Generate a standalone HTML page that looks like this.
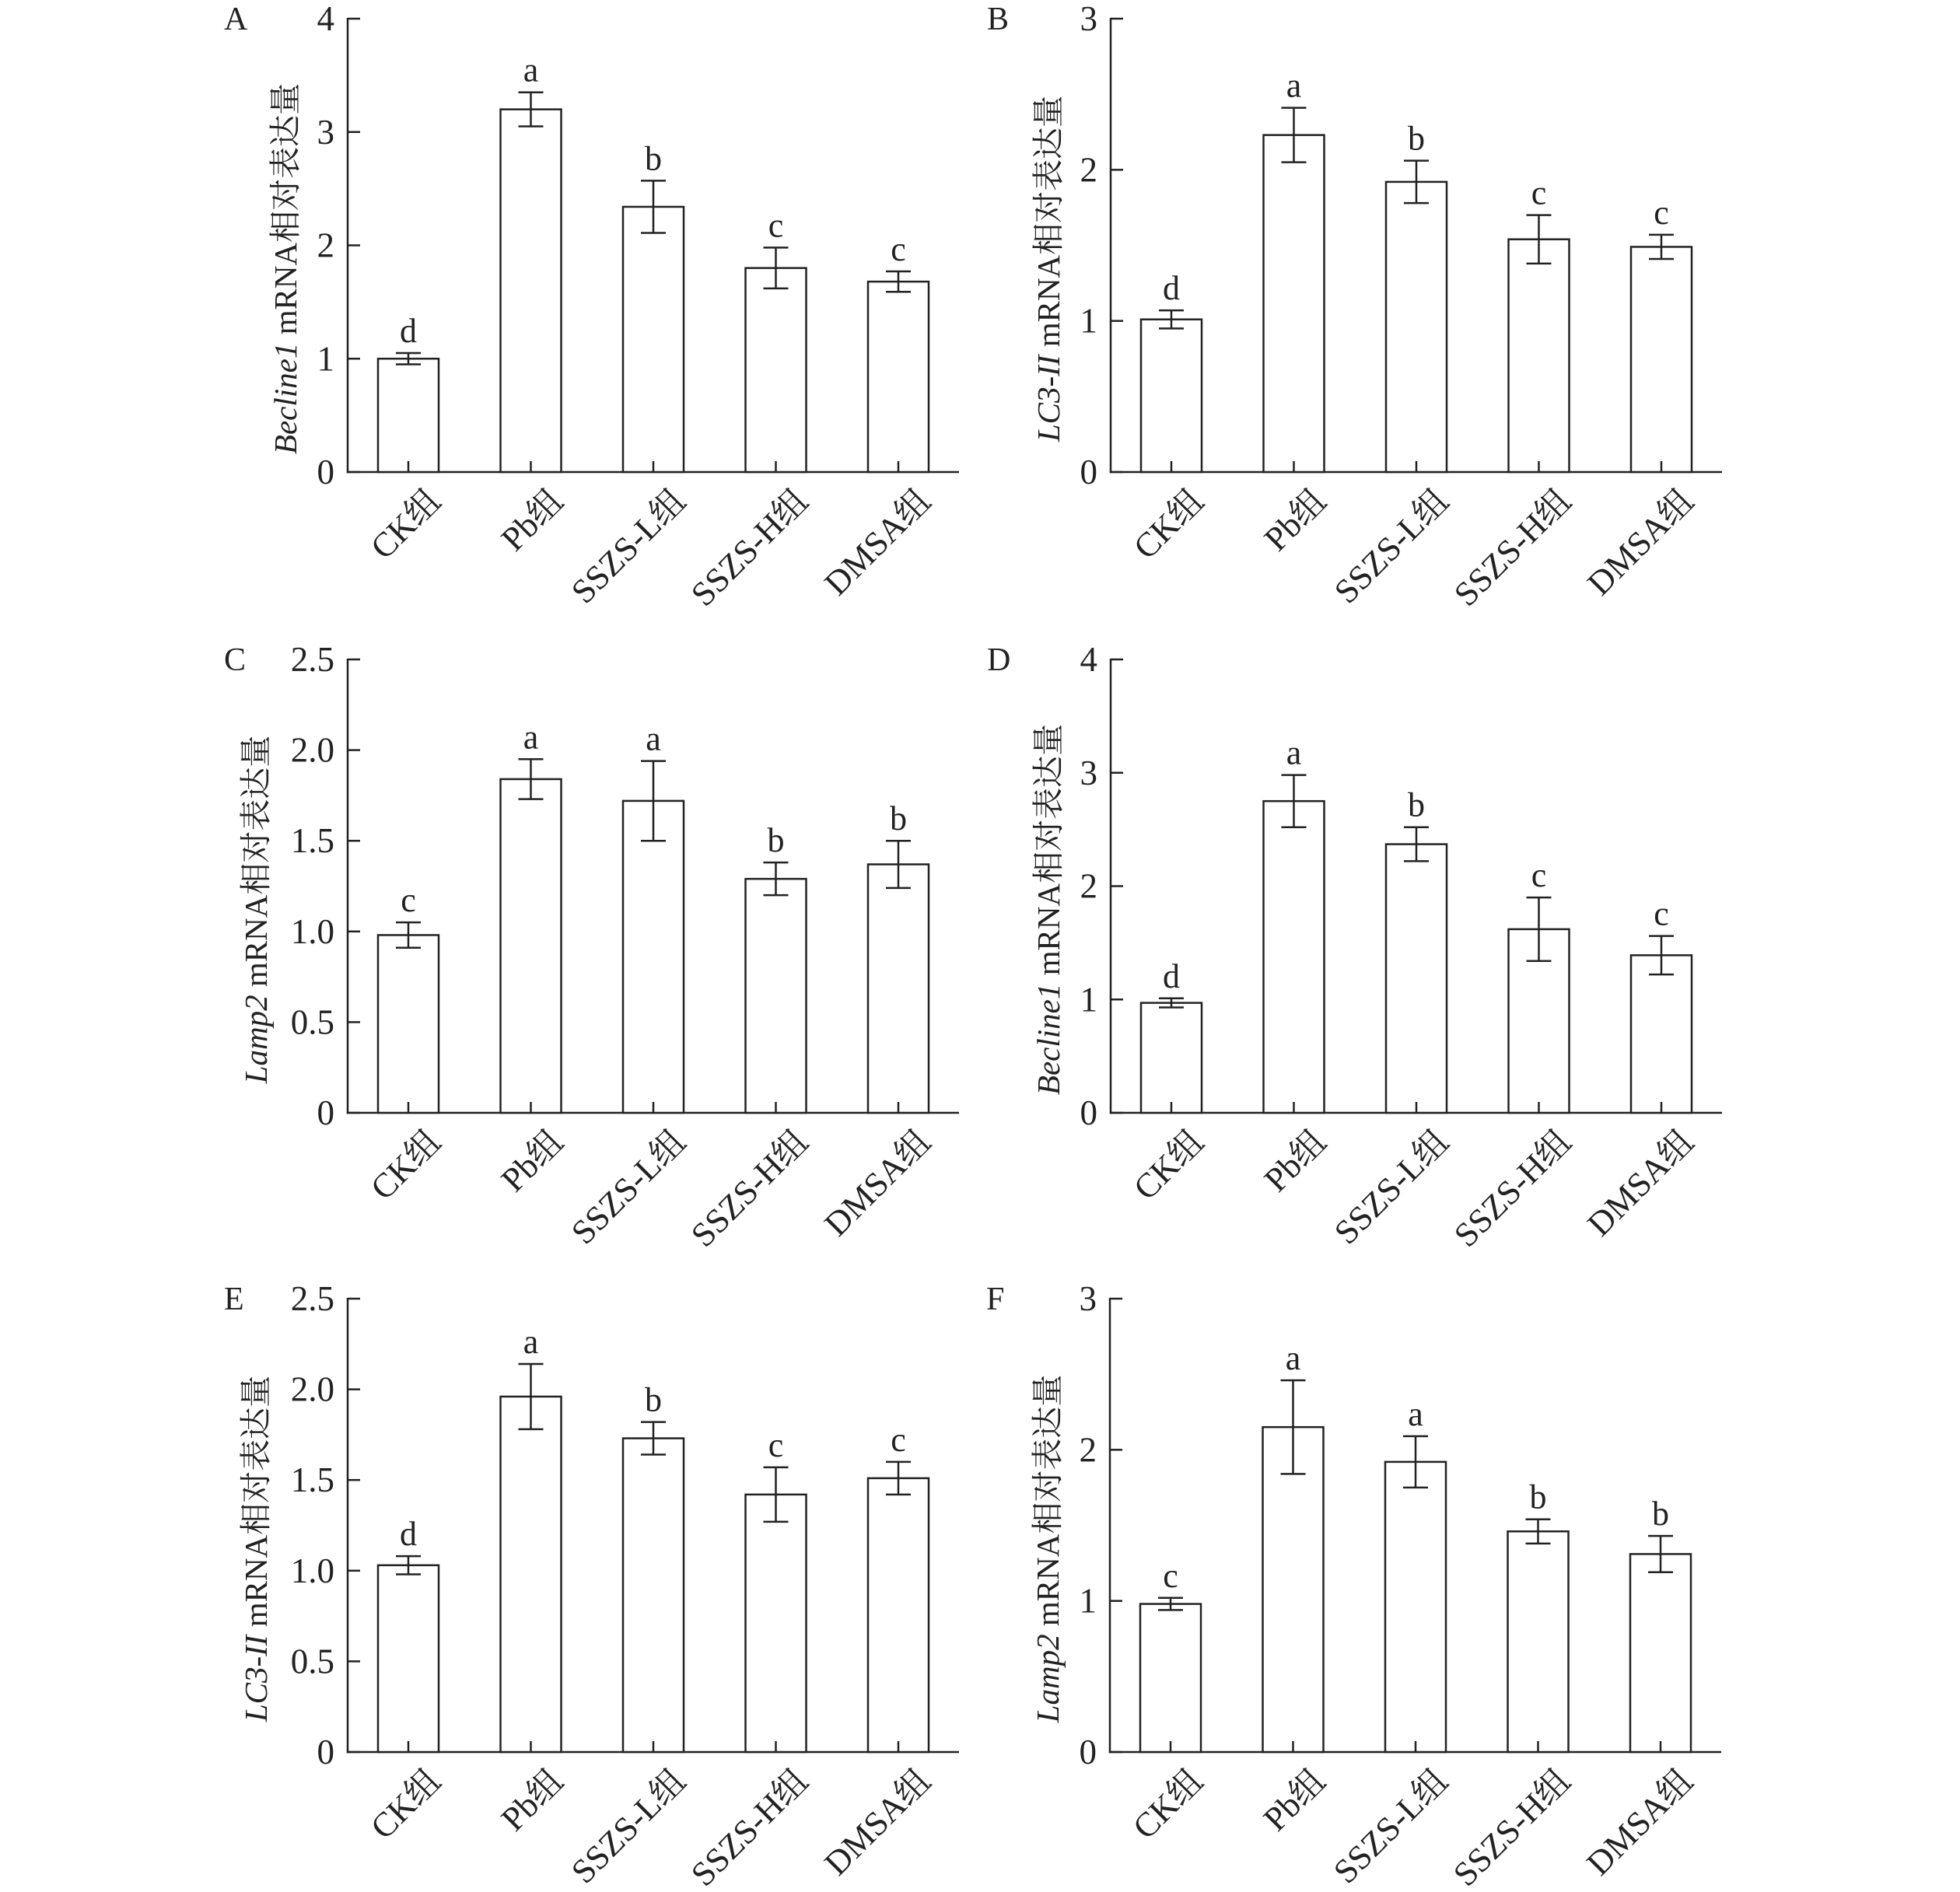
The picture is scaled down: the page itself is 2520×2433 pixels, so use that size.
<!DOCTYPE html>
<html><head><meta charset="utf-8">
<style>html,body{margin:0;padding:0;background:#fff}svg{display:block}</style>
</head><body>
<svg id="s" xmlns="http://www.w3.org/2000/svg" width="2520" height="2433" viewBox="0 0 2520 2433"></svg>
<script>
var panels=[
{L:'A',ax:447,top:24,zero:607,max:4,ticks:[0,1,2,3,4],fmt:0,gene:'Becline1',
 v:[1.0,3.2,2.34,1.80,1.68],e:[0.05,0.15,0.23,0.18,0.09],let:['d','a','b','c','c']},
{L:'B',ax:1428,top:24,zero:607,max:3,ticks:[0,1,2,3],fmt:0,gene:'LC3-II',
 v:[1.01,2.23,1.92,1.54,1.49],e:[0.06,0.18,0.14,0.16,0.08],let:['d','a','b','c','c']},
{L:'C',ax:447,top:848,zero:1431,max:2.5,ticks:[0,0.5,1,1.5,2,2.5],fmt:1,gene:'Lamp2',
 v:[0.98,1.84,1.72,1.29,1.37],e:[0.07,0.11,0.22,0.09,0.13],let:['c','a','a','b','b']},
{L:'D',ax:1428,top:848,zero:1431,max:4,ticks:[0,1,2,3,4],fmt:0,gene:'Becline1',
 v:[0.97,2.75,2.37,1.62,1.39],e:[0.04,0.23,0.15,0.28,0.17],let:['d','a','b','c','c']},
{L:'E',ax:447,top:1670,zero:2253,max:2.5,ticks:[0,0.5,1,1.5,2,2.5],fmt:1,gene:'LC3-II',
 v:[1.03,1.96,1.73,1.42,1.51],e:[0.05,0.18,0.09,0.15,0.09],let:['d','a','b','c','c']},
{L:'F',ax:1427,top:1670,zero:2253,max:3,ticks:[0,1,2,3],fmt:0,gene:'Lamp2',
 v:[0.98,2.15,1.92,1.46,1.31],e:[0.04,0.31,0.17,0.08,0.12],let:['c','a','a','b','b']}
];
var cats=['CK组','Pb组','SSZS-L组','SSZS-H组','DMSA组'];
var FF='font-family="Liberation Serif, Noto Serif CJK SC, serif"';
var o='';
var C='#222';
panels.forEach(function(p){
 var h=p.zero-p.top, sy=function(v){return p.zero-v/p.max*h;};
 var right=p.ax+786;
 o+='<line x1="'+p.ax+'" y1="'+(p.top-1)+'" x2="'+p.ax+'" y2="'+(p.zero+1.2)+'" stroke="'+C+'" stroke-width="2.5"/>';
 o+='<line x1="'+(p.ax-1.2)+'" y1="'+p.zero+'" x2="'+right+'" y2="'+p.zero+'" stroke="'+C+'" stroke-width="2.5"/>';
 p.ticks.forEach(function(t){
  var y=sy(t);
  o+='<line x1="'+p.ax+'" y1="'+y+'" x2="'+(p.ax+16)+'" y2="'+y+'" stroke="'+C+'" stroke-width="2.5"/>';
  var s=(t===0)?'0':(p.fmt?t.toFixed(1):String(t));
  o+='<text x="'+(p.ax-17)+'" y="'+(y+15)+'" font-size="45" text-anchor="end" fill="'+C+'" '+FF+'>'+s+'</text>';
 });
 o+='<text x="'+(p.ax-159)+'" y="'+(p.top+14)+'" font-size="42" fill="'+C+'" '+FF+'>'+p.L+'</text>';
 var mid=(p.top+p.zero)/2+30, lx=p.ax-(p.fmt?104:66);
 o+='<text transform="translate('+lx+','+mid+') rotate(-90)" font-size="41" text-anchor="middle" fill="'+C+'" '+FF+'><tspan font-style="italic">'+p.gene+'</tspan> mRNA相对表达量</text>';
 for(var i=0;i<5;i++){
  var cx=p.ax+78+i*157.5, y=sy(p.v[i]), yt=sy(p.v[i]+p.e[i]), yb=sy(p.v[i]-p.e[i]);
  o+='<rect x="'+(cx-39)+'" y="'+y+'" width="78" height="'+(p.zero-y)+'" fill="#fff" stroke="'+C+'" stroke-width="2.5"/>';
  o+='<line x1="'+cx+'" y1="'+p.zero+'" x2="'+cx+'" y2="'+(p.zero-14)+'" stroke="'+C+'" stroke-width="2.5"/>';
  o+='<line x1="'+cx+'" y1="'+yt+'" x2="'+cx+'" y2="'+yb+'" stroke="'+C+'" stroke-width="2.5"/>';
  o+='<line x1="'+(cx-16)+'" y1="'+yt+'" x2="'+(cx+16)+'" y2="'+yt+'" stroke="'+C+'" stroke-width="2.5"/>';
  o+='<line x1="'+(cx-16)+'" y1="'+yb+'" x2="'+(cx+16)+'" y2="'+yb+'" stroke="'+C+'" stroke-width="2.5"/>';
  o+='<text x="'+cx+'" y="'+(yt-14)+'" font-size="44" text-anchor="middle" fill="'+C+'" '+FF+'>'+p.let[i]+'</text>';
  var tx=cx+44, ty=p.zero+40;
  o+='<text transform="translate('+tx+','+ty+') rotate(-45)" font-size="44" text-anchor="end" fill="'+C+'" '+FF+'>'+cats[i]+'</text>';
 }
});
document.getElementById('s').innerHTML=o;
</script>
</body></html>
